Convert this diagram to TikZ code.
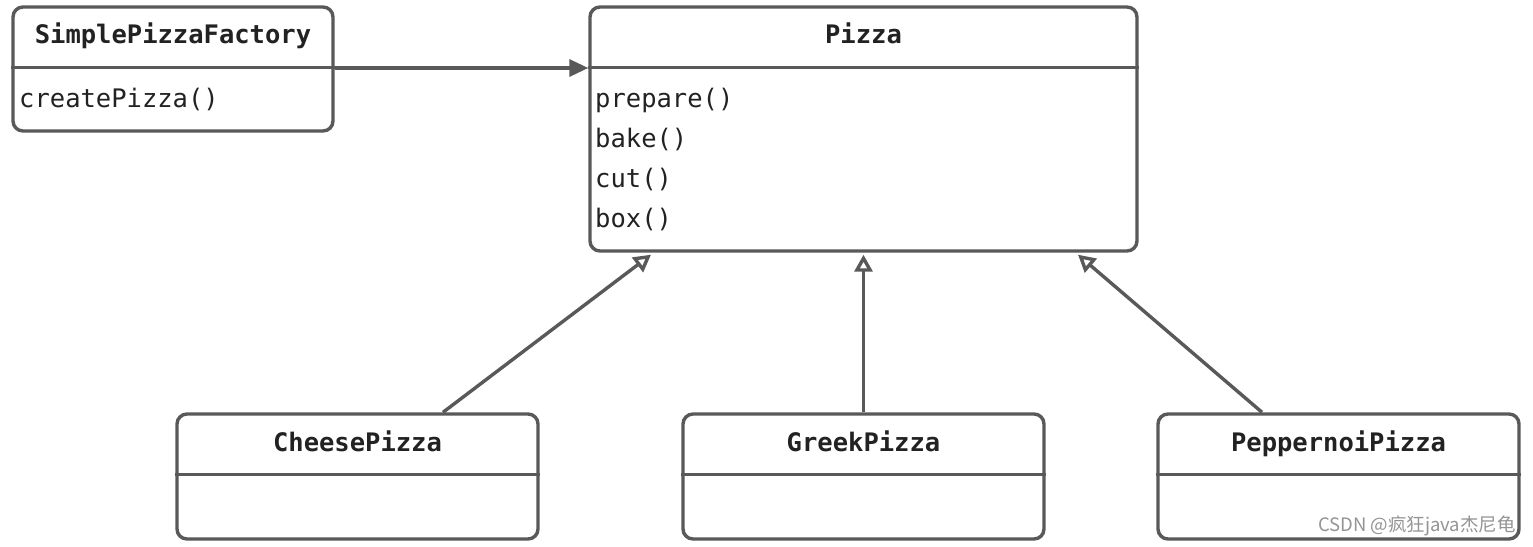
\documentclass[tikz,border=0pt]{standalone}
\usepackage{fontspec}
\setmonofont{DejaVu Sans Mono}
\newfontfamily\cjk{Noto Sans CJK SC}
\usetikzlibrary{arrows.meta}
\definecolor{umlgray}{RGB}{89,89,89}
\definecolor{umltext}{RGB}{34,34,34}
\tikzset{
  classbox/.style={rectangle, rounded corners=10pt, draw=umlgray, line width=3.4pt, fill=white, inner sep=0pt},
  divider/.style={draw=umlgray, line width=3.4pt},
  classname/.style={font=\ttfamily\bfseries\fontsize{25.5}{30}\selectfont, text=umltext, inner sep=0pt, anchor=base},
  method/.style={font=\ttfamily\fontsize{25.5}{30}\selectfont, text=umltext, inner sep=0pt, anchor=base west},
  assoc/.style={draw=umlgray, line width=3.4pt, -{Triangle[length=19pt,width=17pt]}},
  inherit/.style={draw=umlgray, line width=3.4pt, -{Triangle[open,length=17pt,width=18pt]}}
}
\begin{document}
\begin{tikzpicture}[x=1pt,y=-1pt]
\useasboundingbox (0,0) rectangle (1533,546);
% class boxes
\node [classbox, minimum width=320pt, minimum height=124pt] (factory) at (173,69) {};
\node [classbox, minimum width=547pt, minimum height=244pt] (pizza) at (863.5,129) {};
\node [classbox, minimum width=361pt, minimum height=125pt] (cheese) at (357.5,476.5) {};
\node [classbox, minimum width=361pt, minimum height=125pt] (greek) at (863.5,476.5) {};
\node [classbox, minimum width=361pt, minimum height=125pt] (pepper) at (1338.5,476.5) {};
% dividers
\draw [divider] ([yshift=-62pt]factory.north west) -- ([yshift=-62pt]factory.north east);
\draw [divider] ([yshift=-62pt]pizza.north west) -- ([yshift=-62pt]pizza.north east);
\draw [divider] ([yshift=-62pt]cheese.north west) -- ([yshift=-62pt]cheese.north east);
\draw [divider] ([yshift=-62pt]greek.north west) -- ([yshift=-62pt]greek.north east);
\draw [divider] ([yshift=-62pt]pepper.north west) -- ([yshift=-62pt]pepper.north east);
% names
\node [classname] (factoryname) at (173,43) {SimplePizzaFactory};
\node [classname] (pizzaname) at (863.5,43) {Pizza};
\node [classname] (cheesename) at (357.5,451) {CheesePizza};
\node [classname] (greekname) at (863.5,451) {GreekPizza};
\node [classname] (peppername) at (1338.5,451) {PeppernoiPizza};
% methods
\node [method] (create) at (19,107) {createPizza()};
\node [method] (prepare) at (595,107) {prepare()};
\node [method] (bake) at (595,147) {bake()};
\node [method] (cut) at (595,187) {cut()};
\node [method] (boxm) at (595,227) {box()};
% connectors
\draw [assoc] ([yshift=1pt]factory.east) -- ([yshift=1pt]factory.east -| pizza.west);
\draw [inherit] ([xshift=85.5pt]cheese.north) -- ([xshift=-212.5pt,yshift=-2pt]pizza.south);
\draw [inherit] (greek.north) -- ([yshift=-2pt]pizza.south);
\draw [inherit] ([xshift=-76.5pt]pepper.north) -- ([xshift=214.5pt,yshift=-2pt]pizza.south);
% watermark
\node [anchor=east, inner sep=0pt, text=black!42, font=\cjk\fontsize{18.5}{20}\selectfont] (mark) at (1516,526) {CSDN @疯狂java杰尼龟};
\end{tikzpicture}
\end{document}
